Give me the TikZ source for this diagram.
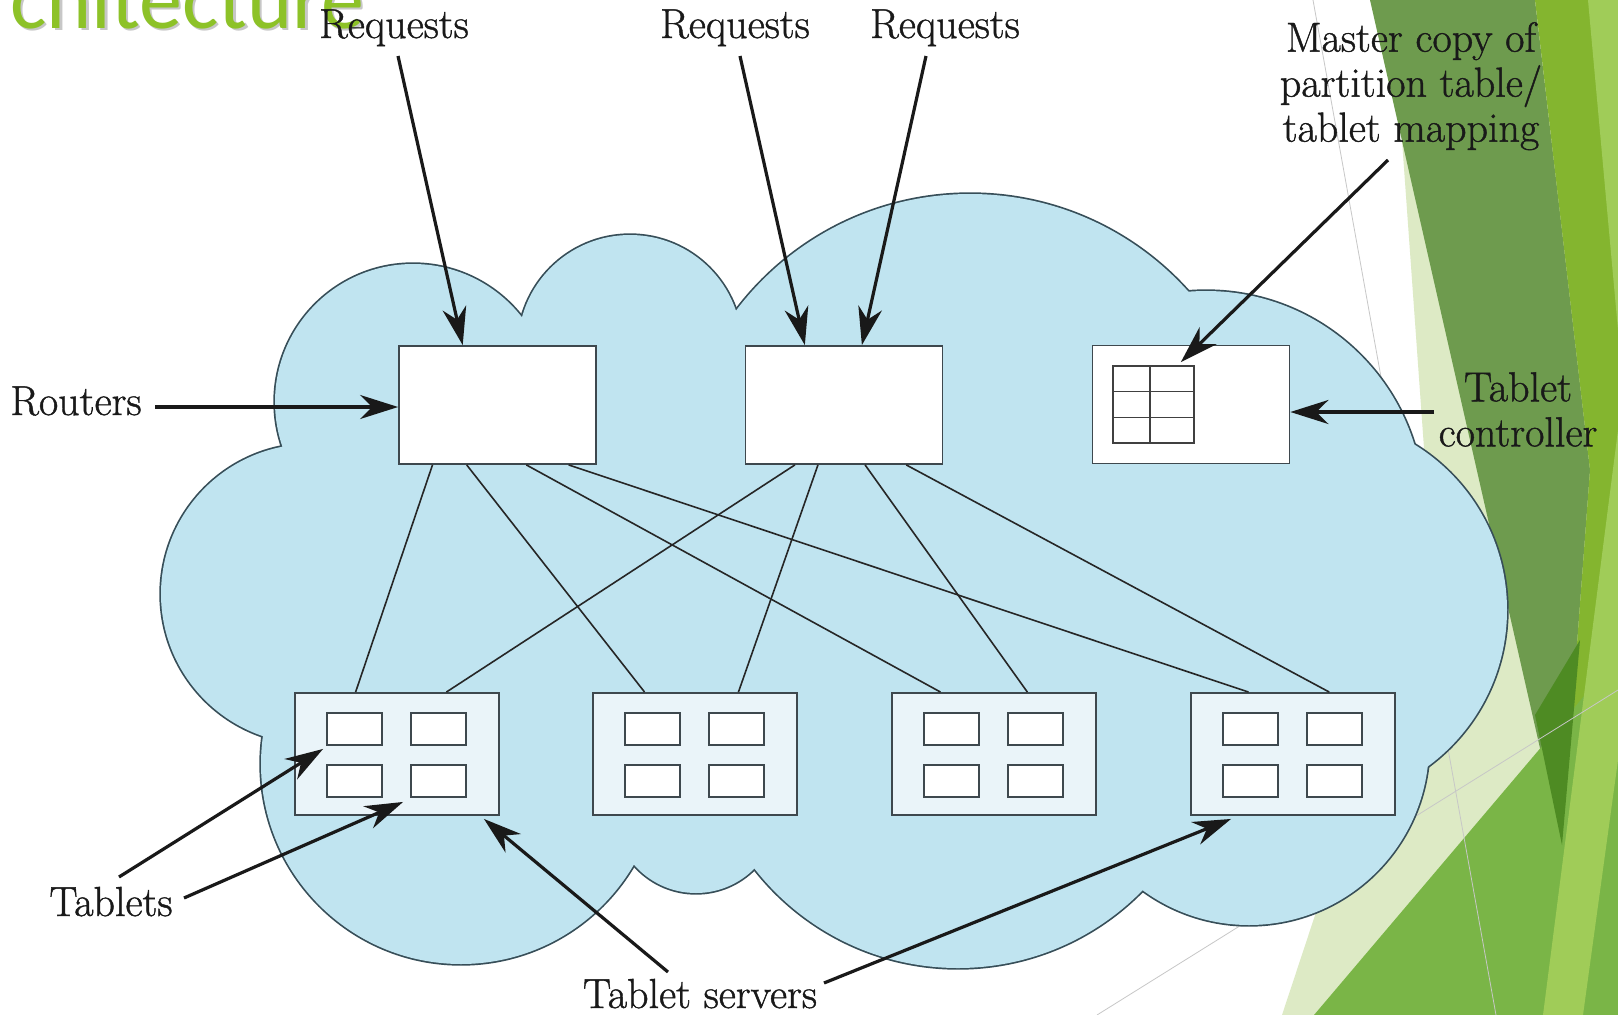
\documentclass[tikz,border=0pt]{standalone}
\usepackage{fontspec}
\setmainfont{Latin Modern Roman}
\newfontfamily\lblfont{Latin Modern Roman}[BoldFont={Latin Modern Roman},BoldFeatures={FakeBold=1.0}]
\newfontfamily\titlefont{Carlito}
\usetikzlibrary{arrows.meta,calc}
\definecolor{cloudfill}{RGB}{192,228,240}
\definecolor{cloudline}{RGB}{55,78,88}
\definecolor{boxline}{RGB}{62,72,78}
\definecolor{srvfill}{RGB}{234,244,249}
\definecolor{titlegreen}{RGB}{141,194,40}
\definecolor{olive}{RGB}{110,155,78}
\definecolor{brightgreen}{RGB}{132,181,47}
\definecolor{palegreen}{RGB}{221,234,197}
\definecolor{midgreen}{RGB}{122,181,71}
\definecolor{lightstripe}{RGB}{160,204,88}
\definecolor{darkgreen}{RGB}{78,139,35}
\begin{document}
\begin{tikzpicture}[x=1pt,y=-1pt,
  lbl/.style={font=\lblfont\bfseries\fontsize{42}{45}\selectfont, inner sep=0pt, align=center, text=black!90},
  router/.style={draw=boxline, line width=1.8pt, fill=white, minimum width=197pt, minimum height=118pt, inner sep=0pt},
  server/.style={draw=boxline, line width=1.9pt, fill=srvfill, minimum width=204pt, minimum height=122pt, inner sep=0pt},
  tablet/.style={draw=boxline, line width=1.9pt, fill=white, minimum width=55pt, minimum height=32pt, inner sep=0pt},
  link/.style={draw=black!85, line width=1.6pt},
  bigarrow/.style={draw=black!90, line width=3.2pt, -{Stealth[length=38pt,width=24pt,inset=12pt]}},
  thinline/.style={draw=black!22, line width=0.8pt}
]
\useasboundingbox (0,0) rectangle (1618,1015);
\fill[white] (0,0) rectangle (1618,1015);

% slide background
\fill[palegreen] (1402,140) -- (1432,560) -- (1330,870) -- (1282,1015) -- (1618,1015) -- (1618,140) -- cycle;
\fill[olive] (1370,0) -- (1535,0) -- (1590,470) -- (1562,845) -- cycle;
\fill[brightgreen] (1535,0) -- (1618,0) -- (1618,1015) -- (1583,1015) -- (1562,845) -- (1590,470) -- cycle;
\fill[midgreen] (1314,1015) -- (1560,725) -- (1618,655) -- (1618,1015) -- cycle;
\fill[lightstripe] (1543,1015) -- (1583,1015) -- (1618,760) -- (1618,430) -- cycle;
\fill[lightstripe] (1588,0) -- (1618,0) -- (1618,330) -- cycle;
\fill[darkgreen] (1535,715) -- (1580,640) -- (1562,845) -- cycle;
\draw[thinline] (1313,0) -- (1496,1015);
\draw[thinline] (1097,1015) -- (1618,690);

% title fragment
\node[font=\titlefont\fontsize{86}{92}\selectfont, text=black!22, anchor=base west, inner sep=0pt] (titleshadow) at (12.5,30.5) {chitecture};
\node[font=\titlefont\fontsize{86}{92}\selectfont, text=titlegreen, anchor=base west, inner sep=0pt] (title) at (10,28) {chitecture};

% cloud
\foreach \cx/\cy/\r in {413/402/138, 630/347/112, 970/487/293, 1206/509/218, 1313/610/194, 1249/745/180, 958/710/258, 696/811/82, 461/764/200, 311/594/150}
  \fill[cloudline] (\cx,\cy) circle[radius=\r pt+1.7pt];
\foreach \cx/\cy/\r in {413/402/138, 630/347/112, 970/487/293, 1206/509/218, 1313/610/194, 1249/745/180, 958/710/258, 696/811/82, 461/764/200, 311/594/150}
  \fill[cloudfill] (\cx,\cy) circle[radius=\r pt];
\fill[cloudfill] (413,402) -- (630,347) -- (970,487) -- (1206,509) -- (1313,610) -- (1249,745) -- (958,710) -- (696,811) -- (461,764) -- (311,594) -- cycle;

% routers and controller
\node[router] (r1) at (497.5,405) {};
\node[router] (r2) at (844,405) {};
\node[router] (ctl) at (1191,404.5) {};
\node[draw=black!75, line width=1.6pt, minimum width=81pt, minimum height=77pt, inner sep=0pt] (grid) at (1153.5,404.5) {};
\draw[black!75, line width=1.6pt] ($(grid.north west)!0.46!(grid.north east)$) -- ($(grid.south west)!0.46!(grid.south east)$);
\draw[black!75, line width=1.6pt] ($(grid.north west)!0.333!(grid.south west)$) -- ($(grid.north east)!0.333!(grid.south east)$);
\draw[black!75, line width=1.6pt] ($(grid.north west)!0.667!(grid.south west)$) -- ($(grid.north east)!0.667!(grid.south east)$);

% tablet servers
\foreach \n/\x in {1/397, 2/695, 3/994, 4/1293} {
  \node[server] (s\n) at (\x,754) {};
  \node[tablet] (s\n a) at ($(s\n.center)+(-42.5,-25)$) {};
  \node[tablet] (s\n b) at ($(s\n.center)+(41.5,-25)$) {};
  \node[tablet] (s\n c) at ($(s\n.center)+(-42.5,27)$) {};
  \node[tablet] (s\n d) at ($(s\n.center)+(41.5,27)$) {};
}

% router to server links
\draw[link] ($(r1.south west)!0.173!(r1.south east)$) -- ($(s1.north west)!0.299!(s1.north east)$);
\draw[link] ($(r1.south west)!0.345!(r1.south east)$) -- ($(s2.north west)!0.255!(s2.north east)$);
\draw[link] ($(r1.south west)!0.645!(r1.south east)$) -- ($(s3.north west)!0.24!(s3.north east)$);
\draw[link] ($(r1.south west)!0.858!(r1.south east)$) -- ($(s4.north west)!0.284!(s4.north east)$);
\draw[link] ($(r2.south west)!0.253!(r2.south east)$) -- ($(s1.north west)!0.74!(s1.north east)$);
\draw[link] ($(r2.south west)!0.369!(r2.south east)$) -- ($(s2.north west)!0.711!(s2.north east)$);
\draw[link] ($(r2.south west)!0.606!(r2.south east)$) -- ($(s3.north west)!0.662!(s3.north east)$);
\draw[link] ($(r2.south west)!0.813!(r2.south east)$) -- ($(s4.north west)!0.676!(s4.north east)$);

% labels
\node[lbl, anchor=base] (req1) at (394,38) {Requests};
\node[lbl, anchor=base] (req2) at (735,38) {Requests};
\node[lbl, anchor=base] (req3) at (945,38) {Requests};
\node[lbl, anchor=north] (master) at (1411,22) {Master copy of\\partition table/\\tablet mapping};
\node[lbl, anchor=base] (routers) at (76,415) {Routers};
\node[lbl, anchor=north] (tctl) at (1518,372) {Tablet\\controller};
\node[lbl, anchor=base] (tablets) at (111,916) {Tablets};
\node[lbl, anchor=base] (tservers) at (700,1008) {Tablet servers};

% arrow tails
\coordinate (tq1) at (398,56);
\coordinate (tq2) at (740,56);
\coordinate (tq3) at (926,56);
\coordinate (tm) at (1388,160);
\coordinate (trt) at (155,407);
\coordinate (tct) at (1434,412);
\coordinate (tt1) at (119,877);
\coordinate (tt2) at (184,898);
\coordinate (ts1) at (668,972);
\coordinate (ts2) at (824,983);

% arrows
\draw[bigarrow] (tq1) -- ($(r1.north west)!0.325!(r1.north east)$);
\draw[bigarrow] (tq2) -- ($(r2.north west)!0.303!(r2.north east)$);
\draw[bigarrow] (tq3) -- ($(r2.north west)!0.59!(r2.north east)$);
\draw[bigarrow] (tm) -- ($(grid.north east)+(-14,-3)$);
\draw[bigarrow] (trt) -- (trt -| r1.west);
\draw[bigarrow] (tct) -- (tct -| ctl.east);
\draw[bigarrow] (tt1) -- ($(s1a.south west)+(-3,3)$);
\draw[bigarrow] (tt2) -- ($(s1d.south west)+(-7,4)$);
\draw[bigarrow] (ts1) -- ($(s1.south east)+(-16,3)$);
\draw[bigarrow] (ts2) -- ($(s4.south west)+(41,3)$);
\end{tikzpicture}
\end{document}
